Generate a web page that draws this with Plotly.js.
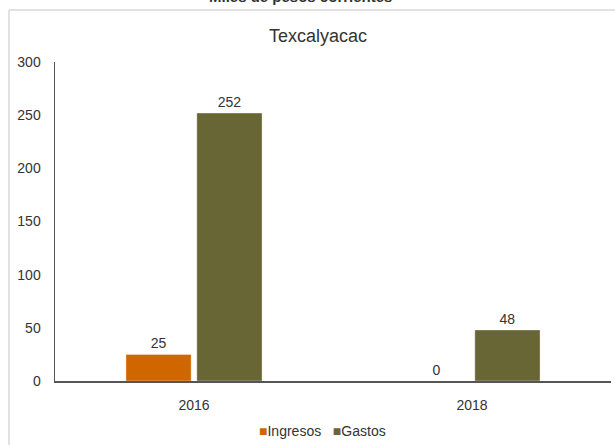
<!DOCTYPE html>
<html>
<head>
<meta charset="utf-8">
<script src="https://cdn.plot.ly/plotly-3.0.1.min.js"></script>
<style>html,body{margin:0;padding:0;background:#fff;}#chart{width:615px;height:445px;}</style>
</head>
<body>
<div id="chart"></div>
<script>
var years = ['2016', '2018'];
var ingresos = [25, 0];
var gastos = [252, 48];
var seriesNames = ['Ingresos', 'Gastos'];
var seriesColors = ['#d06600', '#676634'];
var yTicks = [0, 50, 100, 150, 200, 250, 300];

var txtFont = {family: 'Liberation Sans, Arial, sans-serif', size: 14, color: '#333333'};

var traces = [
  {type: 'bar', name: seriesNames[0], x: years, y: ingresos,
   text: ingresos.map(String), textposition: 'outside', cliponaxis: false,
   textfont: txtFont, outsidetextfont: txtFont, showlegend: false,
   marker: {color: seriesColors[0], line: {color: 'rgba(255,255,255,0.35)', width: 1}}},
  {type: 'bar', name: seriesNames[1], x: years, y: gastos,
   text: gastos.map(String), textposition: 'outside', cliponaxis: false,
   textfont: txtFont, outsidetextfont: txtFont, showlegend: false,
   marker: {color: seriesColors[1], line: {color: 'rgba(255,255,255,0.35)', width: 1}}}
];

var L = 55, R = 4, T = 62, B = 64, W = 615, H = 445;
var pw = W - L - R, ph = H - T - B;
function px(x) { return (x - L) / pw; }
function py(y) { return (H - B - y) / ph; }

var legendText = seriesNames.map(function (n, i) {
  return '<span style="color:' + seriesColors[i] + '">■</span>' + n;
}).join('&nbsp;&nbsp;&nbsp;');

var layout = {
  width: W, height: H,
  margin: {l: L, r: R, t: T, b: B},
  paper_bgcolor: '#ffffff', plot_bgcolor: '#ffffff',
  font: {family: 'Liberation Sans, Arial, sans-serif', color: '#333333', size: 14},
  title: {text: 'Texcalyacac', font: {size: 18, color: '#333333'}, x: px(318), xref: 'paper', xanchor: 'center', y: 1 - 36 / H, yanchor: 'middle'},
  barmode: 'group', bargap: 0.49, bargroupgap: 0.08,
  showlegend: false,
  xaxis: {type: 'category', showline: true, linecolor: '#555555', linewidth: 2,
          ticks: '', showgrid: false, tickfont: {size: 14, color: '#333333'}, zeroline: false,
          ticklabelstandoff: 10},
  yaxis: {range: [0, 300], tickvals: yTicks, showline: true, linecolor: '#555555', linewidth: 1.5,
          ticks: '', showgrid: false, zeroline: false, tickfont: {size: 14, color: '#333333'},
          ticklabelstandoff: 10},
  shapes: [
    {type: 'line', xref: 'paper', yref: 'paper', x0: px(9), x1: px(615), y0: py(10), y1: py(10),
     line: {color: '#d9d9d9', width: 1.5}},
    {type: 'line', xref: 'paper', yref: 'paper', x0: px(9), x1: px(9), y0: py(10), y1: py(445),
     line: {color: '#d9d9d9', width: 1.5}}
  ],
  annotations: [
    {text: '<b>Miles de pesos corrientes</b>', xref: 'paper', yref: 'paper', x: px(300), y: py(-4),
     xanchor: 'center', yanchor: 'middle', showarrow: false, font: {size: 15, color: '#333333'}},
    {text: legendText, xref: 'paper', yref: 'paper', x: px(322), y: py(431),
     xanchor: 'center', yanchor: 'middle', showarrow: false, font: {size: 14, color: '#333333'}}
  ]
};

Plotly.newPlot('chart', traces, layout, {displayModeBar: false, staticPlot: true});
</script>
</body>
</html>
